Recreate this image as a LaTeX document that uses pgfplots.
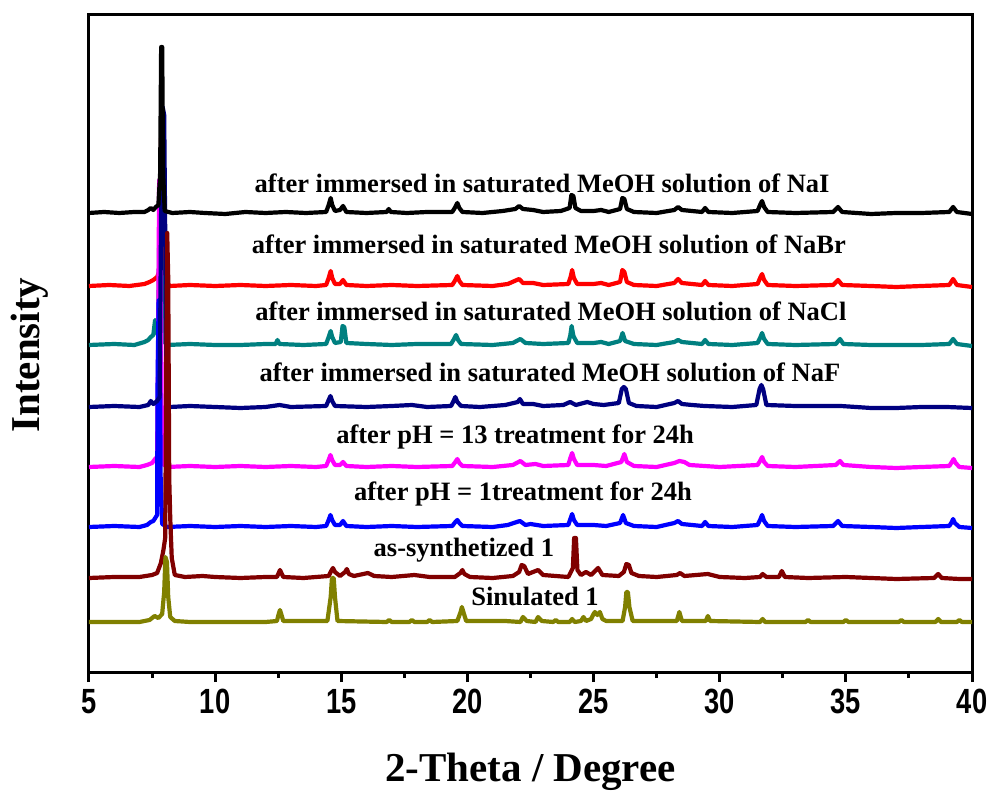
\documentclass[border=0pt]{standalone}
\usepackage{pgfplots}
\pgfplotsset{compat=1.18}
\usepackage{fontspec}
\setmainfont{Liberation Serif}
\newfontfamily\tickfont[FakeStretch=0.78]{Liberation Sans}
\definecolor{cteal}{RGB}{0,128,128}
\definecolor{cnavy}{RGB}{0,0,128}
\definecolor{cdred}{RGB}{128,0,0}
\definecolor{colive}{RGB}{128,128,0}
\definecolor{cmag}{RGB}{255,0,255}
\begin{document}
\begin{tikzpicture}
\begin{axis}[
 scale only axis, width=441.5pt, height=328.5pt,
 xmin=5, xmax=40, ymin=0, ymax=657,
 axis line style={line width=1.5pt},
 xtick={5,10,...,40}, minor x tick num=1, ytick=\empty,
 xtick pos=bottom, tick align=outside,
 major tick length=5pt, minor tick length=3pt,
 every tick/.style={black, line width=1.5pt},
 /pgf/number format/assume math mode=true,
 xticklabel style={font=\tickfont\bfseries\fontsize{17.5}{20}\selectfont},
 xlabel={2-Theta / Degree}, ylabel={Intensity},
 label style={font=\bfseries\fontsize{20.5}{24}\selectfont},
 xlabel style={at={(axis description cs:0.5,-0.152)}, anchor=center},
 ylabel style={at={(axis description cs:-0.067,0.4825)}, anchor=center},
 every axis plot/.append style={line width=2.1pt, line join=round},
]
\coordinate (SW) at (rel axis cs:0,0);
\coordinate (NE) at (rel axis cs:1,1);
% NaBr (red)
\addplot[red, y filter/.expression={y+386}] coordinates {(5,0)(5.8,1)(6.6,0)(7.2,2)(7.4,4)(7.55,6)(7.7,9)(7.78,14)(7.82,80)(7.86,152)(7.92,140)(7.97,89)(8.02,6)(8.2,0)(9,1)(10,0)(11,1)(12,0)(13,1)(14,0)(14.4,1)(14.5,8)(14.58,15)(14.64,8)(14.75,2)(14.95,2)(15.07,6)(15.2,1)(16,0)(17,1)(18,0)(19.4,1)(19.52,6)(19.6,10)(19.68,5)(19.8,1)(21,0)(21.6,2)(22.05,7)(22.2,3)(22.6,3)(23,1)(24,2)(24.1,10)(24.15,16)(24.22,8)(24.35,2)(25,2)(25.3,3)(25.6,1)(26.05,4)(26.14,16)(26.22,14)(26.32,4)(26.6,1)(27.5,0)(28.2,3)(28.35,7)(28.5,3)(29.3,1)(29.42,5)(29.55,1)(30.5,0)(31.5,2)(31.6,8)(31.68,12)(31.76,6)(31.9,1)(33,0)(34.5,1)(34.69,6)(34.85,1)(36,0)(37,-1)(38,0)(39.1,1)(39.25,7)(39.4,1)(40,-1)};
% NaCl (teal)
\addplot[cteal, y filter/.expression={y+327}] coordinates {(5,0)(6,1)(6.8,0)(7.2,3)(7.35,5)(7.45,8)(7.55,10)(7.62,25)(7.68,12)(7.74,15)(7.78,100)(7.82,145)(7.86,100)(7.92,5)(8.1,0)(9,1)(10,0)(11,0)(12,1)(12.4,1)(12.47,5)(12.55,1)(13.5,0)(14.4,1)(14.5,8)(14.58,14)(14.64,8)(14.75,2)(14.98,3)(15.05,19)(15.12,18)(15.2,2)(16,1)(17,0)(18,1)(19.35,1)(19.47,6)(19.55,10)(19.63,5)(19.75,1)(21,0)(21.8,2)(22.1,6)(22.3,2)(23,1)(24,2)(24.08,10)(24.13,19)(24.2,9)(24.35,2)(25,2)(25.3,3)(25.6,1)(26.05,4)(26.15,12)(26.25,4)(26.6,1)(27.5,0)(28.2,3)(28.35,5)(28.5,3)(29.3,1)(29.42,5)(29.55,1)(30.5,0)(31.5,2)(31.6,7)(31.68,12)(31.76,6)(31.9,1)(33,0)(34.6,1)(34.77,6)(34.9,1)(36,0)(38,0)(39.1,1)(39.25,6)(39.4,1)(40,-1)};
% pH 13 (magenta)
\addplot[cmag, y filter/.expression={y+205}] coordinates {(5,0)(6,1)(7,0)(7.3,2)(7.5,4)(7.62,8)(7.7,10)(7.74,120)(7.78,287)(7.83,280)(7.88,60)(7.93,3)(8.1,0)(9,1)(10,0)(11,1)(12,0)(13,1)(14,0)(14.4,1)(14.5,7)(14.57,12)(14.64,7)(14.75,2)(14.95,2)(15.07,5)(15.2,1)(16,0)(17,1)(18,0)(19.4,1)(19.52,5)(19.6,8)(19.68,4)(19.8,1)(21,0)(21.8,2)(22.1,6)(22.3,2)(22.7,3)(23,1)(24,2)(24.08,9)(24.15,14)(24.22,8)(24.35,2)(25,2)(25.5,1)(26.1,5)(26.22,13)(26.32,5)(26.6,1)(27.5,0)(28.2,4)(28.4,6)(28.6,5)(28.8,2)(30,0)(31.5,2)(31.6,6)(31.68,10)(31.76,5)(31.9,1)(33,0)(34.6,2)(34.77,6)(34.9,2)(36,0)(37,-1)(38,0)(39.1,1)(39.2,5)(39.27,8)(39.35,4)(39.5,0)(40,-1)};
% pH 1 (blue)
\addplot[blue, y filter/.expression={y+145}] coordinates {(5,0)(6,1)(7,0)(7.3,2)(7.45,5)(7.55,6)(7.65,10)(7.7,12)(7.72,150)(7.76,227)(7.8,220)(7.84,50)(7.9,3)(8.1,0)(9,1)(10,0)(11,1)(12,0)(13,1)(14,0)(14.4,1)(14.5,7)(14.57,12)(14.64,7)(14.75,2)(14.95,2)(15.07,6)(15.2,1)(16,0)(17,1)(18,0)(19.4,1)(19.52,5)(19.6,7)(19.68,4)(19.8,1)(21,0)(21.6,2)(22.08,6)(22.3,2)(22.5,3)(23,1)(24,2)(24.08,8)(24.15,13)(24.22,7)(24.35,2)(25,2)(25.5,1)(26.05,4)(26.17,12)(26.28,4)(26.6,1)(27.5,0)(28.2,4)(28.35,6)(28.5,3)(29.3,1)(29.42,5)(29.55,1)(30.5,0)(31.5,2)(31.6,7)(31.68,12)(31.76,6)(31.9,1)(33,0)(34.5,1)(34.69,6)(34.85,1)(36,0)(37,-1)(38,0)(39.1,1)(39.2,5)(39.25,8)(39.32,4)(39.5,0)(40,-1)};
% NaF (navy)
\addplot[cnavy, y filter/.expression={y+265}] coordinates {(5,0)(6,1)(7,0)(7.35,2)(7.45,6)(7.55,3)(7.7,6)(7.8,10)(7.86,200)(7.92,300)(7.98,292)(8.03,150)(8.08,5)(8.2,0)(9,1)(10,0)(11,-1)(12,0)(12.55,2)(13,0)(14.4,1)(14.5,7)(14.57,11)(14.64,6)(14.75,1)(16,0)(17,1)(17.8,2)(18.4,0)(19.35,1)(19.45,6)(19.52,10)(19.6,5)(19.75,1)(20.5,0)(21.5,2)(22,5)(22.08,8)(22.2,3)(22.6,3)(23,1)(23.8,2)(24.07,5)(24.3,2)(24.75,5)(25.0,3)(25.4,2)(26.0,4)(26.12,18)(26.2,20)(26.28,18)(26.4,4)(26.7,1)(27.5,0)(28.2,4)(28.35,6)(28.5,3)(28.9,2)(29.4,1)(30.5,0)(31.45,2)(31.58,18)(31.65,22)(31.72,18)(31.85,2)(33,1)(34.8,1)(36,-1)(37,-1)(38,0)(39,0)(40,-1)};
% as-synthetized (dark red)
\addplot[cdred, y filter/.expression={y+94}] coordinates {(5,0)(6,1)(7,1)(7.5,3)(7.7,5)(7.85,15)(7.95,28)(8.02,40)(8.06,200)(8.1,345)(8.14,300)(8.18,100)(8.22,60)(8.28,20)(8.4,3)(8.8,1)(9.5,2)(10,1)(11,0)(12,1)(12.45,1)(12.57,8)(12.7,1)(13.5,0)(14.5,2)(14.6,7)(14.67,10)(14.75,6)(14.95,2)(15.15,6)(15.22,9)(15.3,4)(15.5,2)(16.06,5)(16.3,2)(17,1)(17.9,3)(18.5,1)(19.5,1)(19.72,5)(19.8,8)(19.88,4)(20.1,1)(21,0)(21.8,2)(22.05,6)(22.15,13)(22.25,12)(22.4,4)(22.8,8)(23,3)(23.5,2)(24,1)(24.18,10)(24.23,40)(24.3,40)(24.36,8)(24.5,3)(24.7,6)(24.9,3)(25.18,10)(25.35,3)(26,2)(26.2,6)(26.3,14)(26.4,13)(26.5,5)(26.8,2)(27.5,1)(28.3,3)(28.43,5)(28.6,2)(29.53,4)(30,1)(31,0)(31.6,1)(31.7,4)(31.85,1)(32.35,1)(32.46,7)(32.58,1)(33.5,0)(35,1)(36,0)(37,-1)(38.5,0)(38.66,4)(38.8,0)(39.5,-1)(40,-1)};
% simulated (olive)
\addplot[colive, y filter/.expression={y+50}] coordinates {(5,0)(6,0)(7,0)(7.4,2)(7.6,6)(7.75,4)(7.9,8)(7.98,30)(8.03,65)(8.09,60)(8.14,25)(8.22,5)(8.4,1)(9,0)(10,0)(11,0)(12,0)(12.45,1)(12.52,8)(12.57,12)(12.62,8)(12.7,1)(14.45,1)(14.58,25)(14.63,44)(14.7,44)(14.75,25)(14.85,1)(16.8,0)(16.9,2)(17,0)(17.7,0)(17.8,2)(17.9,0)(18.4,0)(18.5,2)(18.6,0)(19.6,1)(19.73,10)(19.78,15)(19.84,10)(19.95,1)(21.5,1)(22.1,0)(22.2,5)(22.35,1)(22.7,0)(22.8,5)(22.95,1)(23.4,0)(23.5,2)(23.6,0)(24.05,0)(24.15,3)(24.25,0)(24.5,1)(24.6,5)(24.7,1)(24.9,3)(25.0,8)(25.05,10)(25.15,7)(25.25,10)(25.35,3)(25.5,1)(26.15,1)(26.25,15)(26.3,30)(26.36,30)(26.42,15)(26.55,1)(28.3,1)(28.4,10)(28.5,1)(29.45,1)(29.53,6)(29.62,1)(31.6,0)(31.7,3)(31.8,0)(33.4,0)(33.5,2)(33.6,0)(34.9,0)(35,2)(35.1,0)(37.1,0)(37.2,2)(37.3,0)(38.55,0)(38.66,3)(38.77,0)(39.4,0)(39.5,2)(39.6,0)(40,0)};
% NaI (black)
\addplot[black, y filter/.expression={y+459}] coordinates {(5,0)(5.6,1)(6.2,0)(6.8,1)(7.2,1)(7.35,3)(7.45,5)(7.55,3)(7.65,6)(7.75,8)(7.82,40)(7.86,166)(7.9,166)(7.94,40)(8.0,2)(8.3,0)(9,1)(9.6,0)(10.4,-1)(11.2,1)(12,0)(12.8,1)(13.6,0)(14.4,1)(14.5,8)(14.58,15)(14.64,8)(14.75,2)(14.95,3)(15.07,7)(15.2,1)(16,0)(16.8,1)(16.88,4)(16.96,1)(17.6,0)(18.4,1)(19.4,1)(19.52,6)(19.6,10)(19.68,5)(19.8,1)(20.6,0)(21.4,2)(21.9,4)(22.05,7)(22.2,4)(22.6,3)(23,1)(23.7,2)(24.05,5)(24.12,18)(24.2,17)(24.28,5)(24.5,2)(25,2)(25.3,3)(25.6,1)(26.05,4)(26.14,15)(26.22,14)(26.32,4)(26.6,1)(27.5,0)(28.2,3)(28.35,6)(28.5,3)(29.3,1)(29.42,5)(29.55,1)(30.5,0)(31.5,2)(31.6,8)(31.68,12)(31.76,6)(31.9,1)(33,0)(34.5,1)(34.69,6)(34.85,1)(36,-1)(37,0)(38,0)(39.1,1)(39.25,6)(39.4,1)(40,-1)};
\begin{scope}[every node/.style={font=\bfseries\fontsize{13.25}{15}\selectfont, inner sep=0pt}]
\node at (axis cs:22.96,489) {after immersed in saturated MeOH solution of NaI};
\node at (axis cs:23.23,428) {after immersed in saturated MeOH solution of NaBr};
\node at (axis cs:23.31,361) {after immersed in saturated MeOH solution of NaCl};
\node at (axis cs:23.27,300) {after immersed in saturated MeOH solution of NaF};
\node at (axis cs:21.89,235) {after pH = 13 treatment for 24h};
\node at (axis cs:22.2,178) {after pH = 1treatment for 24h};
\node at (axis cs:19.86,122) {as-synthetized 1};
\node at (axis cs:22.68,76) {Sinulated 1};
\end{scope}
\end{axis}
\pgfresetboundingbox
\path[use as bounding box] ([shift={(-44.5pt,-62pt)}]SW) rectangle ([shift={(11pt,7.5pt)}]NE);
\end{tikzpicture}
\end{document}
